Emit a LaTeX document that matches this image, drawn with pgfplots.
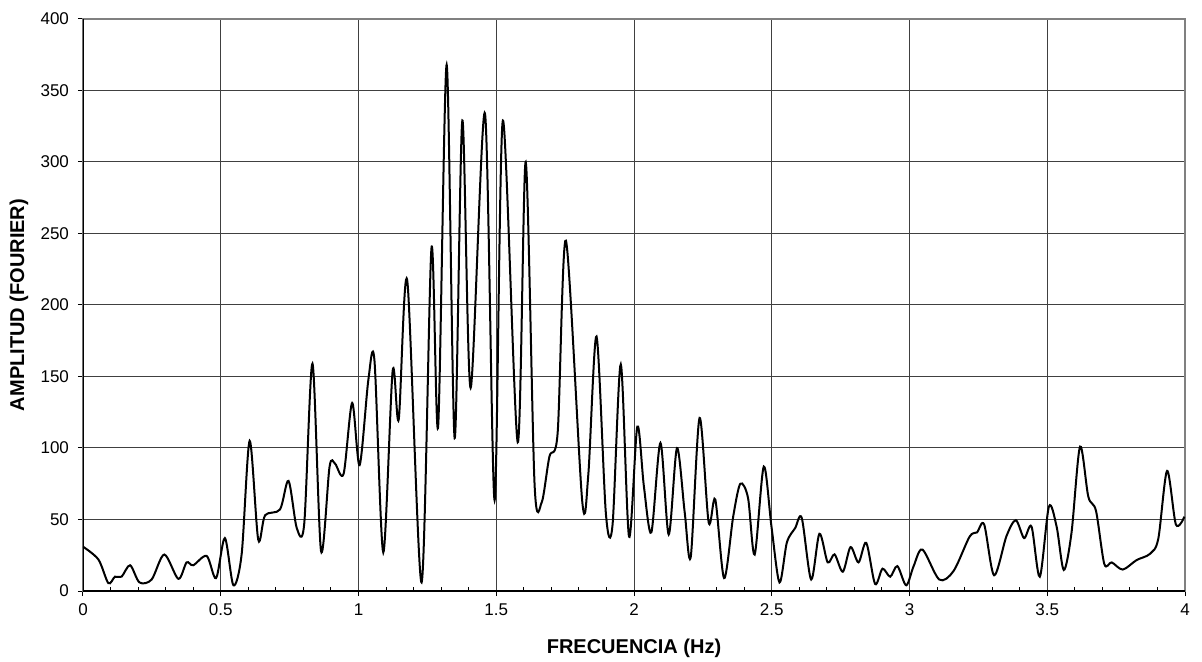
\documentclass[border=0pt]{standalone}
\usepackage{pgfplots}
\pgfplotsset{compat=1.18}
\usepackage{fontspec}
\setmainfont{Liberation Sans}

\pgfplotstableread{
f A
0.000 31
0.056 22
0.092 5.5
0.116 10
0.140 10
0.171 18
0.205 6
0.249 8
0.295 25.5
0.346 8.5
0.376 20
0.400 18
0.449 24.5
0.483 9
0.515 37
0.546 4
0.576 26
0.605 105
0.636 36
0.661 53
0.715 57
0.746 77
0.776 44
0.803 47
0.833 159
0.864 28
0.895 87
0.915 89
0.946 82
0.977 131.5
1.004 88
1.036 148
1.058 161
1.090 27
1.124 154
1.146 120
1.177 217
1.229 6
1.265 240
1.289 115
1.320 368
1.349 107
1.377 329
1.407 142
1.459 334
1.494 63.5
1.524 329
1.578 104
1.607 300
1.639 75
1.665 62
1.693 94
1.723 111
1.753 245
1.812 63
1.834 81
1.864 178
1.898 54
1.922 46
1.952 158.5
1.982 38
2.012 115
2.036 73
2.063 41
2.096 103.5
2.126 39.5
2.156 100
2.184 55
2.206 24
2.238 121
2.271 48
2.295 64
2.327 9
2.360 52
2.386 75
2.414 65
2.438 25.5
2.471 87
2.499 45
2.528 6
2.555 34
2.585 44
2.609 51
2.643 8
2.673 40
2.703 20
2.728 25.6
2.758 13.5
2.786 30.7
2.815 20
2.843 33.7
2.875 5
2.902 15.6
2.930 10
2.956 17.4
2.988 4
3.015 17.4
3.047 29
3.108 8
3.160 14
3.218 38
3.245 41
3.271 46.5
3.307 11
3.352 38.4
3.386 49.5
3.416 37
3.443 45
3.473 10
3.506 59
3.534 45
3.560 14.7
3.588 40.7
3.619 101
3.649 66
3.677 56
3.707 19
3.734 20
3.774 15
3.824 21.6
3.873 26
3.903 36.5
3.935 84
3.967 46.5
3.998 52
}\fourier

\begin{document}
\begin{tikzpicture}
\useasboundingbox (-41.5pt,-35.5pt) rectangle (559.5pt,295.5pt);
\begin{axis}[
    at={(0,0)}, anchor=south west,
    width=551pt, height=286pt, scale only axis,
    xmin=0, xmax=4, ymin=0, ymax=400,
    xtick={0,0.5,...,4}, ytick={0,50,...,400},
    minor x tick num=4,
    tick pos=left,
    tick align=outside,
    major tick length=2.5pt,
    minor tick length=2pt,
    minor x tick style={yshift=2pt},
    tick style={black, line width=0.5pt},
    grid=major,
    grid style={black!75, line width=0.5pt},
    axis line style={draw=black!50, line width=0.8pt},
    tick label style={font=\fontsize{8.5}{10}\selectfont},
    /pgf/number format/assume math mode=true,
    xticklabel style={yshift=-0.5pt},
    yticklabel style={xshift=-1pt},
    every axis x label/.style={at={(axis description cs:0.5,0)}, yshift=-28.5pt, anchor=center},
    every axis y label/.style={at={(axis description cs:0,0.5)}, xshift=-32pt, rotate=90, anchor=center},
    label style={font=\fontsize{10}{12}\selectfont\bfseries},
    xlabel={FRECUENCIA (Hz)},
    ylabel={AMPLITUD (FOURIER)},
]
\addplot[black, line width=1pt, smooth, tension=0.5] table[x=f, y=A] {\fourier};
\draw[black, line width=0.8pt] (rel axis cs:0,1) -- (rel axis cs:0,0) -- (rel axis cs:1,0);
\end{axis}
\end{tikzpicture}
\end{document}
